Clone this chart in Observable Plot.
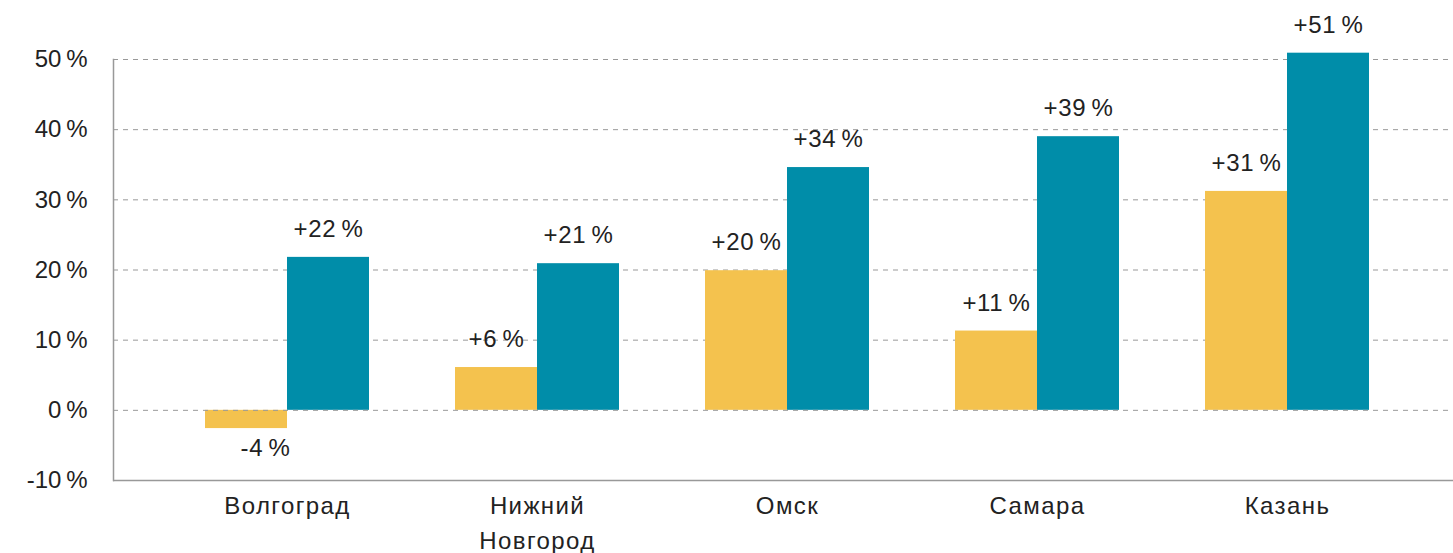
<!DOCTYPE html>
<html><head><meta charset="utf-8">
<script src="https://cdn.jsdelivr.net/npm/d3@7"></script>
<script src="https://cdn.jsdelivr.net/npm/@observablehq/plot@0.6"></script>
<style>
body{margin:0;background:#fff}
g[aria-label="x-axis tick label"] text{letter-spacing:1.4px}
g[aria-label="text"] text{letter-spacing:0.6px}
</style>
</head><body><div id="chart"></div>
<script>
const cities = ["Волгоград", "Нижний\nНовгород", "Омск", "Самара", "Казань"];
const seriesA = [-2.6, 6.1, 19.9, 11.3, 31.2];
const seriesB = [21.8, 20.9, 34.6, 39.0, 50.9];
const labelsA = ["-4\u2009%", "+6\u2009%", "+20\u2009%", "+11\u2009%", "+31\u2009%"];
const labelsB = ["+22\u2009%", "+21\u2009%", "+34\u2009%", "+39\u2009%", "+51\u2009%"];
const yTicks = [-10, 0, 10, 20, 30, 40, 50];
const colors = ["#F4C24E", "#008DA9"];

const dataA = cities.map((c, i) => ({city: c, value: seriesA[i], label: labelsA[i]}));
const dataB = cities.map((c, i) => ({city: c, value: seriesB[i], label: labelsB[i]}));

const chart = Plot.plot({
  width: 1453, height: 553,
  marginLeft: 113, marginRight: 0, marginTop: 59, marginBottom: 73,
  style: {fontFamily: "'Liberation Sans', Arial, sans-serif", fontSize: "24px", color: "#222", background: "#fff"},
  x: {domain: cities, range: [245, 1329], paddingInner: 0.6727, paddingOuter: 0, axis: null},
  y: {domain: [-10, 50], axis: null},
  marks: [
    Plot.ruleY(yTicks.filter(d => d > 0), {stroke: "#999", strokeDasharray: "5,5", strokeWidth: 1}),
    Plot.barY(dataA, {x: "city", y: "value", fill: colors[0], dx: -41}),
    Plot.barY(dataB, {x: "city", y: "value", fill: colors[1], dx: 41}),
    Plot.ruleY([0], {stroke: "#999", strokeDasharray: "5,5", strokeWidth: 1}),
    Plot.ruleY([-10], {stroke: "#999", strokeWidth: 1.5}),
    Plot.frame({anchor: "left", stroke: "#999", strokeWidth: 1.5}),
    Plot.axisY({ticks: yTicks, tickSize: 0, tickPadding: 26, label: null, tickFormat: d => d + "\u2009%", fill: "#222", fontSize: 24}),
    Plot.axisX({tickSize: 0, tickPadding: 8, label: null, lineHeight: 1.47, fill: "#222", fontSize: 24}),
    Plot.text(dataA.filter(d => d.value >= 0), {x: "city", y: "value", text: "label", dx: -41, dy: -28, fill: "#222", fontSize: 24}),
    Plot.text(dataA.filter(d => d.value < 0), {x: "city", y: "value", text: "label", dx: -22, dy: 20, fill: "#222", fontSize: 24}),
    Plot.text(dataB, {x: "city", y: "value", text: "label", dx: 41, dy: -28, fill: "#222", fontSize: 24})
  ]
});
document.getElementById("chart").appendChild(chart);
</script>
</body></html>
